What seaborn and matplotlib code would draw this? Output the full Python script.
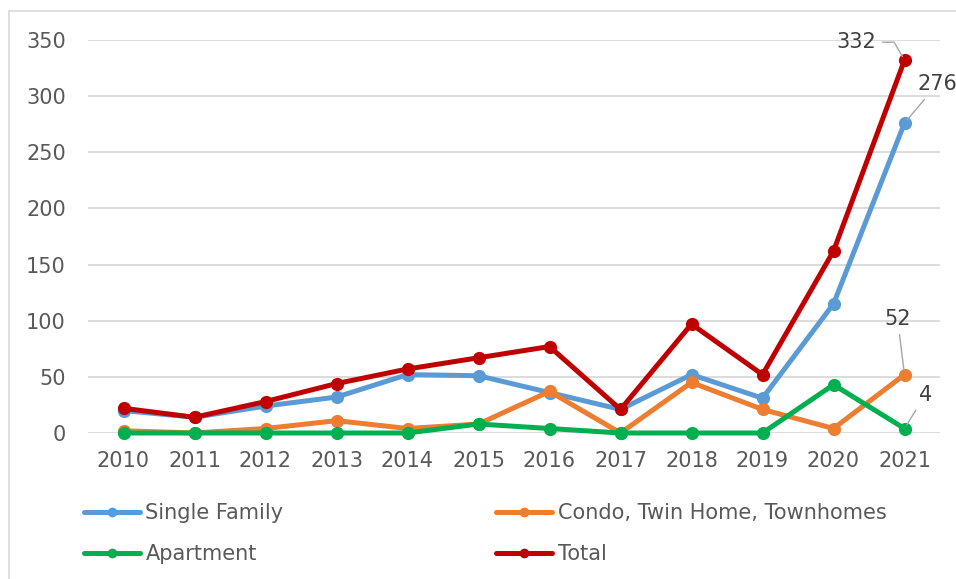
import matplotlib
matplotlib.use('Agg')
import matplotlib.pyplot as plt
import seaborn as sns
import pandas as pd
from matplotlib.lines import Line2D

# Data
years = [2010, 2011, 2012, 2013, 2014, 2015, 2016, 2017, 2018, 2019, 2020, 2021]
single_family = [20, 14, 24, 32, 52, 51, 36, 21, 52, 31, 115, 276]
condo = [2, 0, 4, 11, 4, 8, 37, 0, 45, 21, 4, 52]
apartment = [0, 0, 0, 0, 0, 8, 4, 0, 0, 0, 43, 4]
total = [22, 14, 28, 44, 57, 67, 77, 21, 97, 52, 162, 332]

series_names = ['Single Family', 'Condo, Twin Home, Townhomes', 'Apartment', 'Total']
series_values = [single_family, condo, apartment, total]
colors = ['#5B9BD5', '#ED7D31', '#00B050', '#C00000']

sns.set_style('white')
plt.rcParams['font.family'] = ['DejaVu Sans']

fig = plt.figure(figsize=(9.56, 5.79), dpi=100)
W, H = 956, 579
ax = fig.add_axes([88 / W, 1 - 433 / H, (940 - 88) / W, (433 - 40) / H])

for name, vals, c in zip(series_names, series_values, colors):
    df = pd.DataFrame({'year': years, 'value': vals})
    sns.lineplot(data=df, x='year', y='value', ax=ax, color=c, linewidth=3.6,
                 marker='o', markersize=9.5, markeredgewidth=0, clip_on=False,
                 label=name, legend=False, zorder=3)

ax.set_xlim(years[0] - 0.5, years[-1] + 0.5)
ax.set_ylim(0, 350)
ax.set_xticks(years)
ax.set_xticklabels([str(y) for y in years])
ax.set_yticks(range(0, 351, 50))
ax.grid(axis='y', color='#D9D9D9', linewidth=1.3)
ax.grid(axis='x', visible=False)
for s in ax.spines.values():
    s.set_visible(False)
ax.tick_params(axis='both', length=0, labelsize=15, labelcolor='#595959')
ax.tick_params(axis='y', pad=16)
ax.tick_params(axis='x', pad=13)
ax.set_xlabel('')
ax.set_ylabel('')

# Data labels on 2021
def px(dx, dy):
    return (dx * 0.72, dy * 0.72)

lab_kw = dict(textcoords='offset points', fontsize=15, color='#404040',
              va='center', zorder=5, annotation_clip=False)
arrow = dict(arrowstyle='-', color='#A6A6A6', lw=1, shrinkA=2, shrinkB=3)
ax.annotate(str(total[-1]), xy=(years[-1], total[-1]), xytext=px(-48, 18),
            ha='center', arrowprops=dict(arrow, connectionstyle='angle,angleA=0,angleB=120,rad=0'),
            **lab_kw)
ax.annotate(str(single_family[-1]), xy=(years[-1], single_family[-1]), xytext=px(13, 39),
            ha='left', arrowprops=arrow, **lab_kw)
ax.annotate(str(condo[-1]), xy=(years[-1], condo[-1]), xytext=px(-7, 56),
            ha='center', arrowprops=arrow, **lab_kw)
ax.annotate(str(apartment[-1]), xy=(years[-1], apartment[-1]), xytext=px(21, 34),
            ha='center', arrowprops=arrow, **lab_kw)

# Legend
handles = [Line2D([], [], color=c, linewidth=3.6, marker='o', markersize=7,
                  markeredgewidth=0) for c in colors]
order = [0, 2, 1, 3]
fig.legend([handles[i] for i in order], [series_names[i] for i in order],
           loc='upper left', bbox_to_anchor=(84 / W, 1 - 503 / H), ncol=2,
           frameon=False, fontsize=15, labelcolor='#595959', handlelength=2.7,
           handletextpad=0.25, columnspacing=10.2, labelspacing=1.0,
           borderpad=0, borderaxespad=0)

# Chart border (top and left)
fig.add_artist(Line2D([8.5 / W, 8.5 / W], [0, 1 - 10.5 / H], color='#D9D9D9', lw=1.2))
fig.add_artist(Line2D([8.5 / W, 1], [1 - 10.5 / H, 1 - 10.5 / H], color='#D9D9D9', lw=1.2))

fig.savefig('out.png', dpi=100)
